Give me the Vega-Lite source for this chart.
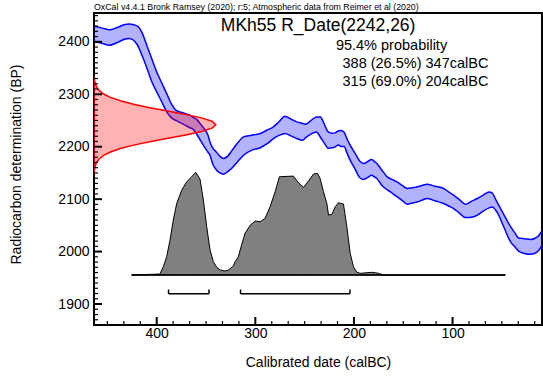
{
  "$schema": "https://vega.github.io/schema/vega-lite/v6.json",
  "width": 448,
  "height": 312,
  "autosize": {"type": "none"},
  "padding": {"left": 94, "top": 13, "right": 1, "bottom": 55},
  "background": "white",
  "config": {
    "font": "Liberation Sans",
    "view": {"stroke": "black", "strokeWidth": 2},
    "axis": {
      "domain": false, "grid": false, "ticks": false, "tickSize": 0, "labelColor": "black", "titleColor": "black",
      "labelFont": "Liberation Sans", "titleFont": "Liberation Sans", "labelFontSize": 14, "titleFontSize": 14,
      "titleFontWeight": "normal", "labelOverlap": false, "labelFlush": false, "format": "d", "zindex": 1
    }
  },
  "datasets": {
    "curve": [
      {"yr":464,"hi":2430.5,"lo":2400.8},{"yr":455,"hi":2426.2,"lo":2396.9},{"yr":448,"hi":2422.9,"lo":2393.3},
      {"yr":440,"hi":2427.4,"lo":2398.7},{"yr":432,"hi":2433.0,"lo":2405.5},{"yr":428,"hi":2433.8,"lo":2406.5},
      {"yr":420,"hi":2430.5,"lo":2395.4},{"yr":415,"hi":2418.0,"lo":2374.5},{"yr":410,"hi":2393.0,"lo":2350.3},
      {"yr":405,"hi":2367.6,"lo":2323.9},{"yr":400,"hi":2342.5,"lo":2304.5},{"yr":395,"hi":2322.1,"lo":2285.9},
      {"yr":390,"hi":2301.7,"lo":2267.1},{"yr":385,"hi":2281.0,"lo":2255.0},{"yr":380,"hi":2268.8,"lo":2249.6},
      {"yr":375,"hi":2265.6,"lo":2244.6},{"yr":370,"hi":2262.5,"lo":2239.6},{"yr":367,"hi":2260.7,"lo":2236.7},
      {"yr":363,"hi":2256.0,"lo":2233.0},{"yr":359,"hi":2251.2,"lo":2222.4},{"yr":355,"hi":2241.7,"lo":2209.9},
      {"yr":350,"hi":2229.3,"lo":2195.0},{"yr":348,"hi":2222.0,"lo":2189.5},{"yr":346,"hi":2209.0,"lo":2183.8},
      {"yr":343,"hi":2197.0,"lo":2166.0},{"yr":340,"hi":2191.0,"lo":2157.0},{"yr":336,"hi":2182.0,"lo":2150.0},
      {"yr":332,"hi":2177.5,"lo":2147.6},{"yr":328,"hi":2182.0,"lo":2152.5},{"yr":324,"hi":2192.0,"lo":2158.6},
      {"yr":318,"hi":2207.0,"lo":2171.2},{"yr":312,"hi":2218.7,"lo":2183.8},{"yr":304,"hi":2221.8,"lo":2193.0},
      {"yr":295,"hi":2225.2,"lo":2198.0},{"yr":288,"hi":2231.8,"lo":2205.7},{"yr":282,"hi":2237.5,"lo":2215.0},
      {"yr":276,"hi":2247.5,"lo":2221.6},{"yr":270,"hi":2258.0,"lo":2225.3},{"yr":264,"hi":2252.9,"lo":2220.7},
      {"yr":258,"hi":2247.4,"lo":2215.7},{"yr":252,"hi":2244.4,"lo":2212.4},{"yr":249,"hi":2243.0,"lo":2217.3},
      {"yr":244,"hi":2249.4,"lo":2223.6},{"yr":238,"hi":2256.9,"lo":2228.0},{"yr":234,"hi":2256.9,"lo":2218.0},
      {"yr":230,"hi":2242.6,"lo":2206.9},{"yr":226,"hi":2228.3,"lo":2197.0},{"yr":222,"hi":2225.8,"lo":2197.9},
      {"yr":219,"hi":2226.4,"lo":2199.7},{"yr":216,"hi":2230.0,"lo":2203.5},{"yr":213,"hi":2231.0,"lo":2200.5},
      {"yr":210,"hi":2227.5,"lo":2200.4},{"yr":207,"hi":2214.8,"lo":2187.8},{"yr":204,"hi":2203.7,"lo":2175.0},
      {"yr":199,"hi":2187.9,"lo":2157.9},{"yr":194,"hi":2172.3,"lo":2140.8},{"yr":190,"hi":2168.0,"lo":2137.5},
      {"yr":186,"hi":2171.8,"lo":2141.6},{"yr":182,"hi":2175.5,"lo":2145.5},{"yr":179,"hi":2171.5,"lo":2142.0},
      {"yr":177,"hi":2168.5,"lo":2139.8},{"yr":172,"hi":2156.2,"lo":2127.0},{"yr":166,"hi":2142.0,"lo":2117.5},
      {"yr":161,"hi":2137.2,"lo":2111.2},{"yr":156,"hi":2132.6,"lo":2104.5},{"yr":151,"hi":2126.2,"lo":2097.2},
      {"yr":146,"hi":2120.3,"lo":2090.3},{"yr":141,"hi":2121.8,"lo":2092.5},{"yr":136,"hi":2123.3,"lo":2094.7},
      {"yr":131,"hi":2125.9,"lo":2098.0},{"yr":126,"hi":2128.5,"lo":2101.2},{"yr":118,"hi":2124.7,"lo":2096.8},
      {"yr":109,"hi":2120.3,"lo":2091.7},{"yr":104,"hi":2114.0,"lo":2087.0},{"yr":99,"hi":2107.5,"lo":2082.1},
      {"yr":93,"hi":2099.0,"lo":2073.5},{"yr":87,"hi":2090.3,"lo":2064.8},{"yr":81,"hi":2095.8,"lo":2065.3},
      {"yr":75,"hi":2101.2,"lo":2069.3},{"yr":69,"hi":2107.8,"lo":2077.0},{"yr":63,"hi":2113.8,"lo":2083.3},
      {"yr":60,"hi":2112.0,"lo":2085.2},{"yr":55,"hi":2094.7,"lo":2075.6},{"yr":48,"hi":2070.7,"lo":2046.8},
      {"yr":41,"hi":2047.0,"lo":2018.0},{"yr":37,"hi":2036.2,"lo":2009.5},{"yr":33,"hi":2026.0,"lo":2001.0},
      {"yr":27,"hi":2024.5,"lo":1996.3},{"yr":21,"hi":2023.0,"lo":1994.7},{"yr":14,"hi":2028.0,"lo":1999.5},
      {"yr":8,"hi":2044.0,"lo":2016.5}
    ],
    "rdate": [
      {"bp":2151.0,"yr":463.3},{"bp":2157.5,"yr":463.0},{"bp":2164.0,"yr":462.2},{"bp":2170.5,"yr":460.8},
      {"bp":2177.0,"yr":458.2},{"bp":2183.5,"yr":453.8},{"bp":2190.0,"yr":446.9},{"bp":2196.5,"yr":436.9},
      {"bp":2203.0,"yr":423.5},{"bp":2209.5,"yr":407.1},{"bp":2216.0,"yr":388.7},{"bp":2222.5,"yr":370.4},
      {"bp":2229.0,"yr":354.6},{"bp":2235.5,"yr":343.9},{"bp":2242.0,"yr":340.1},{"bp":2248.5,"yr":343.9},
      {"bp":2255.0,"yr":354.6},{"bp":2261.5,"yr":370.4},{"bp":2268.0,"yr":388.7},{"bp":2274.5,"yr":407.1},
      {"bp":2281.0,"yr":423.5},{"bp":2287.5,"yr":436.9},{"bp":2294.0,"yr":446.9},{"bp":2300.5,"yr":453.8},
      {"bp":2307.0,"yr":458.2},{"bp":2313.5,"yr":460.8},{"bp":2320.0,"yr":462.2},{"bp":2326.5,"yr":463.0},
      {"bp":2333.0,"yr":463.3}
    ],
    "calib": [
      {"yr":425.4,"bp":1955.3},{"yr":396.7,"bp":1957.2},{"yr":393.3,"bp":1971.2},{"yr":389.9,"bp":1990.2},
      {"yr":386.5,"bp":2022.0},{"yr":383.2,"bp":2060.2},{"yr":379.7,"bp":2092.0},{"yr":374.6,"bp":2117.3},
      {"yr":369.6,"bp":2133.2},{"yr":364.5,"bp":2142.7},{"yr":360.4,"bp":2151.1},{"yr":356.1,"bp":2138.3},
      {"yr":352.7,"bp":2098.3},{"yr":349.3,"bp":2047.4},{"yr":345.9,"bp":2003.0},{"yr":342.6,"bp":1980.7},
      {"yr":339.1,"bp":1970.0},{"yr":335.8,"bp":1964.9},{"yr":330.7,"bp":1962.9},{"yr":327.3,"bp":1964.9},
      {"yr":322.3,"bp":1972.5},{"yr":320.5,"bp":1980.7},{"yr":317.2,"bp":1990.0},{"yr":314.5,"bp":2009.0},
      {"yr":310.4,"bp":2035.0},{"yr":305.3,"bp":2050.0},{"yr":300.2,"bp":2058.3},{"yr":295.1,"bp":2056.9},
      {"yr":290.1,"bp":2063.4},{"yr":285.0,"bp":2085.5},{"yr":279.9,"bp":2114.1},{"yr":275.6,"bp":2142.7},
      {"yr":261.4,"bp":2144.0},{"yr":256.3,"bp":2131.3},{"yr":251.2,"bp":2122.5},{"yr":246.1,"bp":2134.5},
      {"yr":241.1,"bp":2147.8},{"yr":237.0,"bp":2149.2},{"yr":234.3,"bp":2139.6},{"yr":230.9,"bp":2114.1},
      {"yr":227.5,"bp":2092.0},{"yr":225.8,"bp":2069.7},{"yr":222.4,"bp":2071.0},{"yr":219.0,"bp":2085.5},
      {"yr":215.7,"bp":2093.1},{"yr":210.6,"bp":2090.7},{"yr":207.2,"bp":2047.4},{"yr":203.8,"bp":1996.7},
      {"yr":200.5,"bp":1971.2},{"yr":197.0,"bp":1960.5},{"yr":193.7,"bp":1958.6},{"yr":186.9,"bp":1959.7},
      {"yr":181.8,"bp":1960.5},{"yr":178.4,"bp":1959.7},{"yr":175.1,"bp":1958.6},{"yr":170.0,"bp":1955.3},
      {"yr":46.5,"bp":1955.3}
    ],
    "base": [{"from":425.4,"to":46.5,"bp":1955.3}],
    "ranges": [{"from":388,"to":347,"bar":1919.5,"top":1927.7},{"from":315,"to":204,"bar":1919.5,"top":1927.7}],
    "ymaj": [{"v":1900,"at":463.6},{"v":2000,"at":463.6},{"v":2100,"at":463.6},{"v":2200,"at":463.6},{"v":2300,"at":463.6},{"v":2400,"at":463.6}],
    "ymin": [{"v":1870,"at":463.6},{"v":1880,"at":463.6},{"v":1890,"at":463.6},{"v":1910,"at":463.6},{"v":1920,"at":463.6},{"v":1930,"at":463.6},
             {"v":1940,"at":463.6},{"v":1950,"at":463.6},{"v":1960,"at":463.6},{"v":1970,"at":463.6},{"v":1980,"at":463.6},{"v":1990,"at":463.6},
             {"v":2010,"at":463.6},{"v":2020,"at":463.6},{"v":2030,"at":463.6},{"v":2040,"at":463.6},{"v":2050,"at":463.6},{"v":2060,"at":463.6},
             {"v":2070,"at":463.6},{"v":2080,"at":463.6},{"v":2090,"at":463.6},{"v":2110,"at":463.6},{"v":2120,"at":463.6},{"v":2130,"at":463.6},
             {"v":2140,"at":463.6},{"v":2150,"at":463.6},{"v":2160,"at":463.6},{"v":2170,"at":463.6},{"v":2180,"at":463.6},{"v":2190,"at":463.6},
             {"v":2210,"at":463.6},{"v":2220,"at":463.6},{"v":2230,"at":463.6},{"v":2240,"at":463.6},{"v":2250,"at":463.6},{"v":2260,"at":463.6},
             {"v":2270,"at":463.6},{"v":2280,"at":463.6},{"v":2290,"at":463.6},{"v":2310,"at":463.6},{"v":2320,"at":463.6},{"v":2330,"at":463.6},
             {"v":2340,"at":463.6},{"v":2350,"at":463.6},{"v":2360,"at":463.6},{"v":2370,"at":463.6},{"v":2380,"at":463.6},{"v":2390,"at":463.6},
             {"v":2410,"at":463.6},{"v":2420,"at":463.6},{"v":2430,"at":463.6},{"v":2440,"at":463.6},{"v":2450,"at":463.6}],
    "xmaj": [{"v":100,"at":1860},{"v":200,"at":1860},{"v":300,"at":1860},{"v":400,"at":1860}],
    "xmin": [{"v":450,"at":1860},{"v":433.33,"at":1860},{"v":416.67,"at":1860},{"v":383.33,"at":1860},{"v":366.67,"at":1860},{"v":350,"at":1860},
             {"v":333.33,"at":1860},{"v":316.67,"at":1860},{"v":283.33,"at":1860},{"v":266.67,"at":1860},{"v":250,"at":1860},{"v":233.33,"at":1860},
             {"v":216.67,"at":1860},{"v":183.33,"at":1860},{"v":166.67,"at":1860},{"v":150,"at":1860},{"v":133.33,"at":1860},{"v":116.67,"at":1860},
             {"v":83.33,"at":1860},{"v":66.67,"at":1860},{"v":50,"at":1860},{"v":33.33,"at":1860},{"v":16.67,"at":1860}],
    "header": [{"yr":463.6,"bp":2460.6,"txt":"OxCal v4.4.1 Bronk Ramsey (2020); r:5; Atmospheric data from Reimer et al (2020)"}],
    "head": [{"yr":236.3,"bp":2420.4,"txt":"MKh55 R_Date(2242,26)"}],
    "lines": [
      {"yr":218.3,"bp":2384.2,"txt":"95.4% probability"},
      {"yr":211.6,"bp":2349.3,"txt":"388 (26.5%) 347calBC"},
      {"yr":211.6,"bp":2315.6,"txt":"315 (69.0%) 204calBC"}
    ]
  },
  "encoding": {
    "x": {"field": "yr", "type": "quantitative",
      "scale": {"domain": [9.3, 463.6], "reverse": true, "nice": false, "zero": false},
      "axis": {"orient": "bottom", "title": "Calibrated date (calBC)", "values": [100, 200, 300, 400],
        "labelPadding": 1, "titleY": 41, "titleBaseline": "alphabetic"}},
    "y": {"field": "bp", "type": "quantitative",
      "scale": {"domain": [1860, 2455], "nice": false, "zero": false},
      "axis": {"orient": "left", "title": "Radiocarbon determination (BP)", "values": [1900, 2000, 2100, 2200, 2300, 2400],
        "labelPadding": 5, "titleX": -74, "titleY": 151, "titleBaseline": "alphabetic"}}
  },
  "layer": [
    {
      "data": {"name": "curve"},
      "mark": {"type": "area", "fill": "#0000ff", "fillOpacity": 0.3, "interpolate": "monotone", "clip": true},
      "encoding": {"y": {"field": "hi", "type": "quantitative"}, "y2": {"field": "lo"}}
    },
    {
      "data": {"name": "curve"},
      "mark": {"type": "line", "color": "#0000ff", "strokeWidth": 1.5, "interpolate": "monotone", "clip": true},
      "encoding": {"y": {"field": "hi", "type": "quantitative"}}
    },
    {
      "data": {"name": "curve"},
      "mark": {"type": "line", "color": "#0000ff", "strokeWidth": 1.5, "interpolate": "monotone", "clip": true},
      "encoding": {"y": {"field": "lo", "type": "quantitative"}}
    },
    {
      "data": {"name": "rdate"},
      "mark": {"type": "area", "orient": "horizontal", "fill": "#ff0000", "fillOpacity": 0.3, "stroke": "#ff0000", "strokeWidth": 1.5, "clip": true},
      "encoding": {"x2": {"datum": 463.6}}
    },
    {
      "data": {"name": "calib"},
      "mark": {"type": "area", "fill": "#808080", "stroke": "black", "strokeWidth": 1, "clip": true},
      "encoding": {"y2": {"datum": 1955.3}}
    },
    {
      "data": {"name": "base"},
      "mark": {"type": "rule", "color": "black", "strokeWidth": 1.5},
      "encoding": {"x": {"field": "from", "type": "quantitative"}, "x2": {"field": "to"}, "y": {"field": "bp", "type": "quantitative"}}
    },
    {
      "data": {"name": "ranges"},
      "mark": {"type": "rule", "color": "black", "strokeWidth": 1.5},
      "encoding": {"x": {"field": "from", "type": "quantitative"}, "x2": {"field": "to"}, "y": {"field": "bar", "type": "quantitative"}}
    },
    {
      "data": {"name": "ranges"},
      "mark": {"type": "rule", "color": "black", "strokeWidth": 1.5},
      "encoding": {"x": {"field": "from", "type": "quantitative"}, "y": {"field": "bar", "type": "quantitative"}, "y2": {"field": "top"}}
    },
    {
      "data": {"name": "ranges"},
      "mark": {"type": "rule", "color": "black", "strokeWidth": 1.5},
      "encoding": {"x": {"field": "to", "type": "quantitative"}, "y": {"field": "bar", "type": "quantitative"}, "y2": {"field": "top"}}
    },
    {
      "data": {"name": "ymaj"},
      "mark": {"type": "tick", "orient": "horizontal", "color": "black", "size": 8, "thickness": 2, "xOffset": 4, "opacity": 1},
      "encoding": {"y": {"field": "v", "type": "quantitative"}, "x": {"field": "at", "type": "quantitative"}}
    },
    {
      "data": {"name": "ymin"},
      "mark": {"type": "tick", "orient": "horizontal", "color": "black", "size": 4, "thickness": 1.2, "xOffset": 2, "opacity": 1},
      "encoding": {"y": {"field": "v", "type": "quantitative"}, "x": {"field": "at", "type": "quantitative"}}
    },
    {
      "data": {"name": "xmaj"},
      "mark": {"type": "tick", "orient": "vertical", "color": "black", "size": 8, "thickness": 2, "yOffset": -4, "opacity": 1},
      "encoding": {"x": {"field": "v", "type": "quantitative"}, "y": {"field": "at", "type": "quantitative"}}
    },
    {
      "data": {"name": "xmin"},
      "mark": {"type": "tick", "orient": "vertical", "color": "black", "size": 4, "thickness": 1.2, "yOffset": -2, "opacity": 1},
      "encoding": {"x": {"field": "v", "type": "quantitative"}, "y": {"field": "at", "type": "quantitative"}}
    },
    {
      "data": {"name": "header"},
      "mark": {"type": "text", "align": "left", "baseline": "alphabetic", "fontSize": 8.8, "font": "Liberation Sans", "color": "black", "clip": false},
      "encoding": {"text": {"field": "txt"}}
    },
    {
      "data": {"name": "head"},
      "mark": {"type": "text", "align": "center", "baseline": "alphabetic", "fontSize": 17.5, "font": "Liberation Sans", "color": "black"},
      "encoding": {"text": {"field": "txt"}}
    },
    {
      "data": {"name": "lines"},
      "mark": {"type": "text", "align": "left", "baseline": "alphabetic", "fontSize": 14.5, "font": "Liberation Sans", "color": "black"},
      "encoding": {"text": {"field": "txt"}}
    }
  ]
}
